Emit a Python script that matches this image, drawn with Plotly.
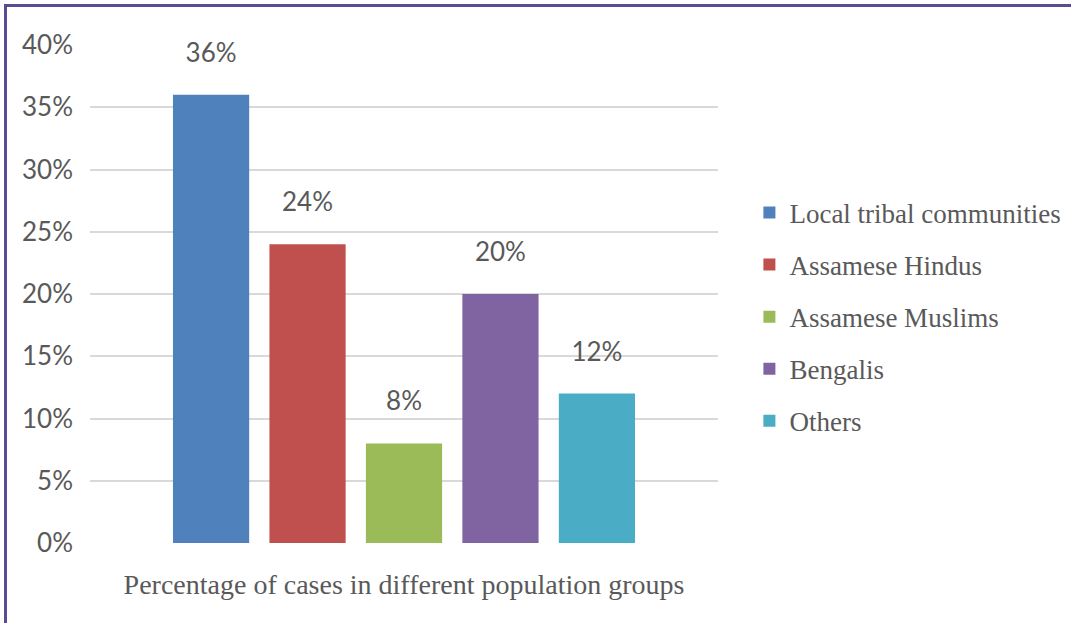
import plotly.graph_objects as go

categories = ["Percentage of cases in different population groups"]
groups = ["Local tribal communities", "Assamese Hindus", "Assamese Muslims", "Bengalis", "Others"]
values = [0.36, 0.24, 0.08, 0.20, 0.12]
colors = ["#4f81bd", "#c0504d", "#9bbb59", "#8064a2", "#4bacc6"]
tick_vals = [0, 0.05, 0.10, 0.15, 0.20, 0.25, 0.30, 0.35, 0.40]
tick_text = ["0%", "5%", "10%", "15%", "20%", "25%", "30%", "35%", "40%"]

fig = go.Figure()
for i, (g, v, c) in enumerate(zip(groups, values, colors)):
    fig.add_trace(go.Bar(
        x=[0], y=[v], name=g, marker=dict(color=c, line=dict(width=0)),
        text=[f"<span style='font-size:26px'>{v:.0%}</span><br> "],
        textposition="outside", cliponaxis=False,
        textfont=dict(family="Lato", size=20, color="#595959"),
        legendgroup=g, hoverinfo="skip",
    ))

fig.update_layout(
    width=1071, height=623,
    margin=dict(l=90, r=353, t=45, b=80, autoexpand=False),
    paper_bgcolor="white", plot_bgcolor="white",
    barmode="group", bargap=0.232, bargroupgap=0.21,
    showlegend=True,
    legend=dict(
        x=1.05, y=0.454, xanchor="left", yanchor="middle",
        font=dict(family="Liberation Serif", size=27, color="#595959"),
        traceorder="grouped", tracegroupgap=14, itemwidth=30,
    ),
    xaxis=dict(
        range=[-0.5, 0.5], tickvals=[0], ticktext=categories,
        showticklabels=False, showgrid=False, zeroline=False, showline=False,
        title=dict(text=categories[0], standoff=31,
                   font=dict(family="Liberation Serif", size=28, color="#595959")),
    ),
    yaxis=dict(
        range=[0, 0.40], tickvals=tick_vals, ticktext=tick_text,
        showgrid=True, gridcolor="#d9d9d9", gridwidth=2,
        zeroline=False, showline=False, ticks="", ticklabelstandoff=16,
        tickfont=dict(family="Lato", size=26, color="#595959"),
    ),
    shapes=[
        dict(type="line", xref="paper", yref="paper",
             x0=(5 - 90) / 628, x1=(1075 - 90) / 628,
             y0=1 + (45 - 5.5) / 498, y1=1 + (45 - 5.5) / 498,
             line=dict(color="#5e4a8e", width=3)),
        dict(type="line", xref="paper", yref="paper",
             x0=(5.5 - 90) / 628, x1=(5.5 - 90) / 628,
             y0=1 + (45 - 4) / 498, y1=-(623 - 543 + 5) / 498,
             line=dict(color="#5e4a8e", width=3)),
    ],
)

fig.write_html("out.html", config={"displayModeBar": False},
               post_script="document.body.style.margin='0';document.body.style.overflow='hidden';")
